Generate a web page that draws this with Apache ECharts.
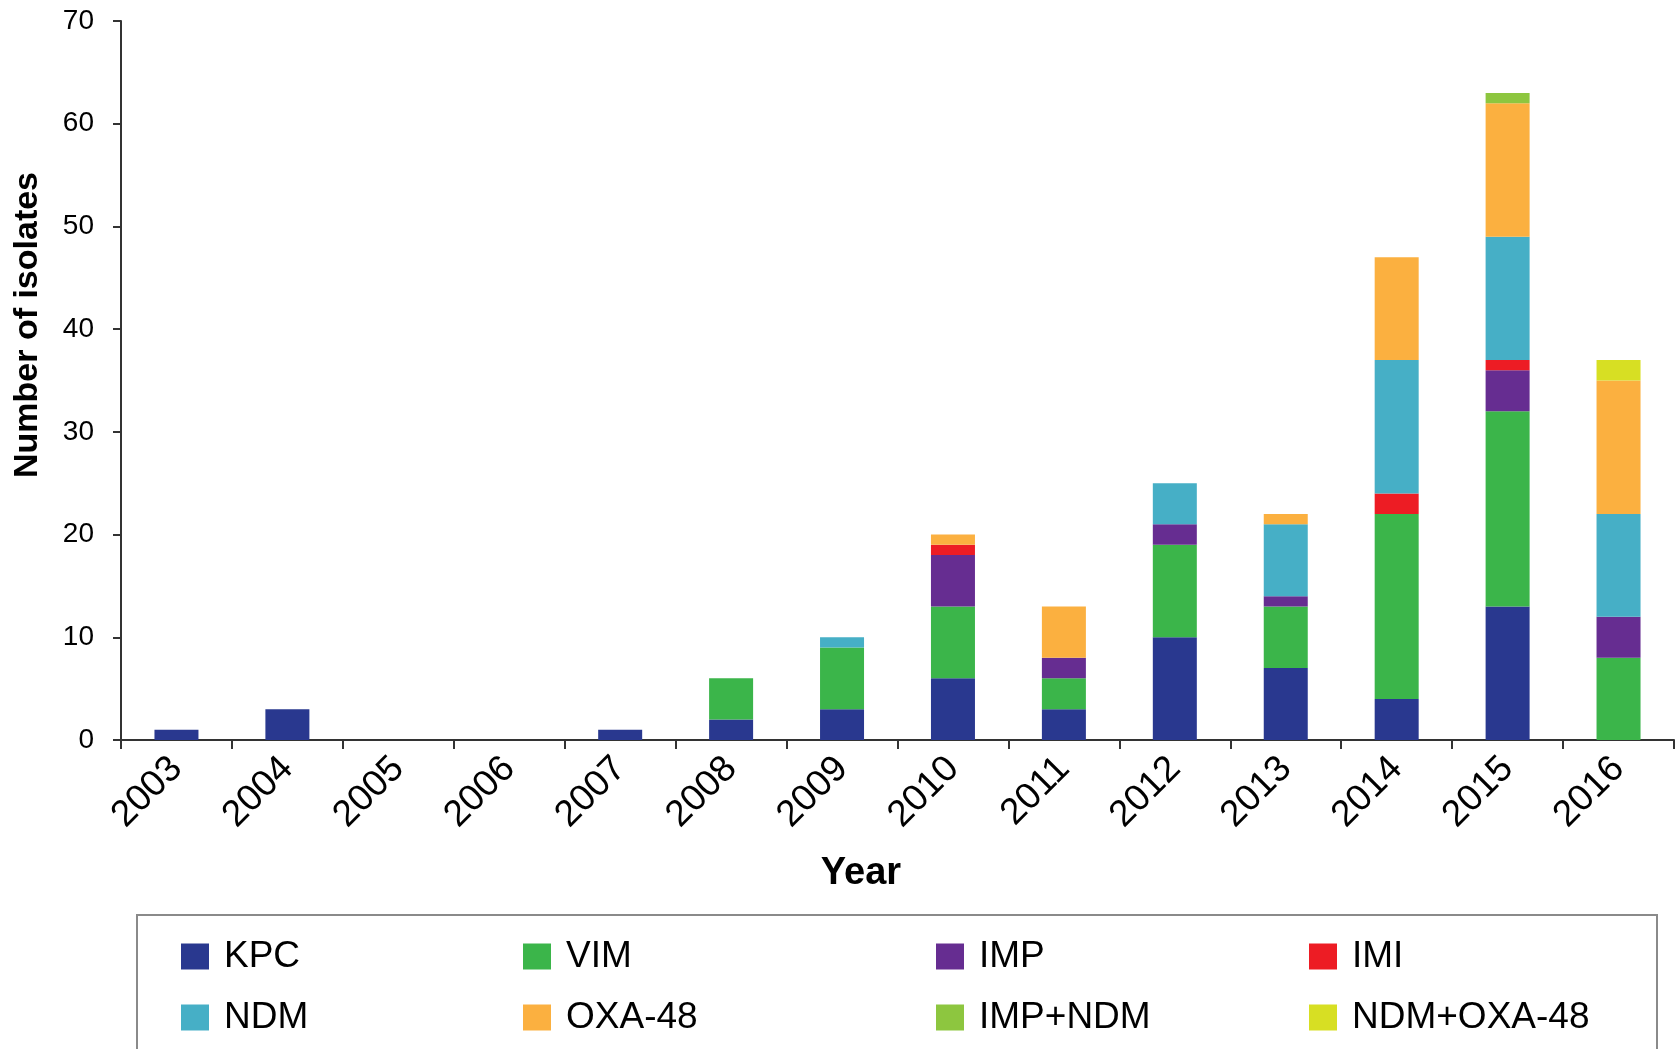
<!DOCTYPE html>
<html>
<head>
<meta charset="utf-8">
<style>
  html, body { margin: 0; padding: 0; background: #fff; }
  #chart { width: 1677px; height: 1049px; }
</style>
<script src="https://cdn.jsdelivr.net/npm/echarts@6/dist/echarts.min.js"></script>
</head>
<body>
<div id="chart"></div>
<script>
// Carbapenemase-producing isolates per year, by enzyme type
const years = ['2003','2004','2005','2006','2007','2008','2009','2010','2011','2012','2013','2014','2015','2016'];
const kpc     = [1, 3, 0, 0, 1, 2, 3, 6, 3, 10, 7, 4, 13, 0];
const vim     = [0, 0, 0, 0, 0, 4, 6, 7, 3, 9, 6, 18, 19, 8];
const imp     = [0, 0, 0, 0, 0, 0, 0, 5, 2, 2, 1, 0, 4, 4];
const imi     = [0, 0, 0, 0, 0, 0, 0, 1, 0, 0, 0, 2, 1, 0];
const ndm     = [0, 0, 0, 0, 0, 0, 1, 0, 0, 4, 7, 13, 12, 10];
const oxa48   = [0, 0, 0, 0, 0, 0, 0, 1, 5, 0, 1, 10, 13, 13];
const impNdm  = [0, 0, 0, 0, 0, 0, 0, 0, 0, 0, 0, 0, 1, 0];
const ndmOxa  = [0, 0, 0, 0, 0, 0, 0, 0, 0, 0, 0, 0, 0, 2];
const yTicks  = [0, 10, 20, 30, 40, 50, 60, 70];

const seriesDefs = [
  { name: 'KPC',        data: kpc,    color: '#29388F' },
  { name: 'VIM',        data: vim,    color: '#3BB54A' },
  { name: 'IMP',        data: imp,    color: '#662D91' },
  { name: 'IMI',        data: imi,    color: '#ED1C24' },
  { name: 'NDM',        data: ndm,    color: '#46AFC6' },
  { name: 'OXA-48',     data: oxa48,  color: '#FBB040' },
  { name: 'IMP+NDM',    data: impNdm, color: '#8DC63F' },
  { name: 'NDM+OXA-48', data: ndmOxa, color: '#D7DF23' }
];

const FONT = '"Liberation Sans", Arial, sans-serif';

// legend laid out as a 4 x 2 grid inside a framed box
const legendCols = [181, 523, 936, 1309];
const legendRows = [938, 999];
const legends = seriesDefs.map((s, i) => ({
  data: [s.name],
  left: legendCols[i % 4],
  top: legendRows[Math.floor(i / 4)],
  padding: 0,
  itemWidth: 28,
  itemHeight: 26,
  icon: 'rect',
  textStyle: { fontFamily: FONT, fontSize: 37, color: '#000', padding: [0, 0, 0, 10] }
}));

const chart = echarts.init(document.getElementById('chart'), null, { renderer: 'canvas' });
chart.setOption({
  animation: false,
  backgroundColor: '#fff',
  grid: { left: 121, right: 3, top: 21, bottom: 309, containLabel: false },
  legend: legends,
  xAxis: {
    type: 'category',
    data: years,
    boundaryGap: true,
    axisLine: { lineStyle: { color: '#333', width: 2 } },
    axisTick: { show: true, alignWithLabel: false, length: 9, lineStyle: { color: '#333', width: 2 } },
    axisLabel: { rotate: 45, margin: 23, fontFamily: FONT, fontSize: 37, color: '#000' }
  },
  yAxis: {
    type: 'value',
    min: yTicks[0],
    max: yTicks[yTicks.length - 1],
    interval: 10,
    splitLine: { show: false },
    axisLine: { show: true, lineStyle: { color: '#333', width: 2 } },
    axisTick: { show: true, length: 8, lineStyle: { color: '#333', width: 2 } },
    axisLabel: { margin: 27, fontFamily: FONT, fontSize: 28, color: '#000' }
  },
  series: seriesDefs.map(s => ({
    name: s.name,
    type: 'bar',
    stack: 'total',
    barWidth: 44,
    data: s.data,
    itemStyle: { color: s.color }
  })),
  graphic: [
    {
      type: 'rect',
      shape: { x: 137, y: 915, width: 1520, height: 160 },
      style: { fill: 'none', stroke: '#8a8a8a', lineWidth: 2 },
      z: -1
    },
    {
      type: 'text',
      x: 28, y: 325,
      rotation: Math.PI / 2,
      style: { text: 'Number of isolates', fontFamily: FONT, fontWeight: 'bold', fontSize: 34,
               fill: '#000', align: 'center', verticalAlign: 'middle' }
    },
    {
      type: 'text',
      x: 861, y: 874,
      style: { text: 'Year', fontFamily: FONT, fontWeight: 'bold', fontSize: 38,
               fill: '#000', align: 'center', verticalAlign: 'middle' }
    }
  ]
});
</script>
</body>
</html>
